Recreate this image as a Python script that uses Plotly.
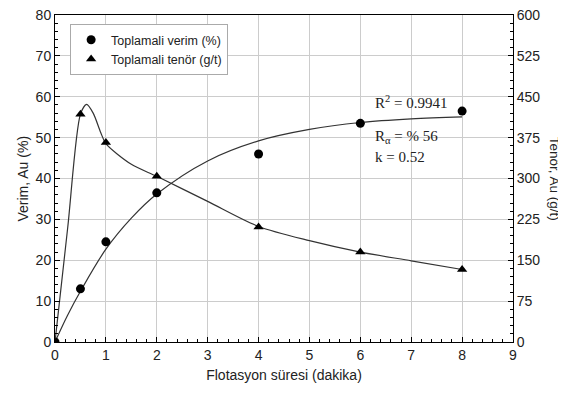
import plotly.graph_objects as go

# Measured data
t_pts = [0, 0.5, 1, 2, 4, 6, 8]
recovery = [0, 13, 24.5, 36.5, 46, 53.5, 56.5]          # Verim, Au (%)
grade = [0, 418, 366, 304, 211, 165, 133]                # Tenör, Au (g/t)

# Fitted recovery curve
t_fit = [0, 0.25, 0.5, 1, 1.5, 2, 3, 4, 5, 6, 7, 8]
rec_fit = [0, 6.6, 12.4, 22.7, 30.3, 36.2, 44.3, 49.2, 52.0, 53.7, 54.6, 55.1]

# Smooth grade curve
t_gc = [0, 0.25, 0.5, 0.62, 0.75, 0.9, 1, 1.5, 2, 3, 4, 5, 6, 7, 8]
grade_curve = [0, 210, 418, 436, 420, 384, 364, 326, 304, 258, 212, 186, 165, 149, 133]

x_ticks = list(range(0, 10))
left_ticks = list(range(0, 90, 10))
right_ticks = list(range(0, 675, 75))

serif = "Liberation Serif, Times New Roman, serif"
sans = "Liberation Sans, Arial, sans-serif"

fig = go.Figure()
fig.add_trace(go.Scatter(x=t_fit, y=rec_fit, mode="lines", line=dict(color="#333", width=1.2, shape="spline"),
                         showlegend=False, hoverinfo="skip"))
fig.add_trace(go.Scatter(x=t_gc, y=grade_curve, mode="lines", yaxis="y2",
                         line=dict(color="#333", width=1.2, shape="spline", smoothing=0.8),
                         showlegend=False, hoverinfo="skip"))
fig.add_trace(go.Scatter(x=t_pts, y=recovery, mode="markers", name="Toplamali verim (%)",
                         marker=dict(symbol="circle", size=9, color="black")))
fig.add_trace(go.Scatter(x=t_pts, y=grade, mode="markers", name="Toplamali tenör (g/t)", yaxis="y2",
                         marker=dict(symbol="triangle-up", size=9, color="black")))

fig.update_layout(
    width=566, height=396,
    margin=dict(l=47, r=61, t=7, b=62),
    paper_bgcolor="white", plot_bgcolor="white",
    font=dict(family=sans, size=14, color="#222"),
    xaxis=dict(range=[0, 9], tickvals=x_ticks, showgrid=True, gridcolor="#cccccc", gridwidth=1,
               showline=True, linecolor="black", linewidth=1, mirror=True, zeroline=False,
               ticks="inside", ticklen=5, tickcolor="black", automargin=False, ticklabeloverflow="allow",
               minor=dict(dtick=0.2, ticks="inside", ticklen=3, tickcolor="black", showgrid=False),
               title=dict(text="Flotasyon süresi (dakika)", font=dict(size=14), standoff=8)),
    yaxis=dict(range=[0, 80], tickvals=left_ticks, showgrid=True, gridcolor="#cccccc", gridwidth=1,
               showline=True, linecolor="black", linewidth=1, zeroline=False,
               ticks="inside", ticklen=5, tickcolor="black", automargin=False, ticklabeloverflow="allow",
               minor=dict(dtick=2, ticks="inside", ticklen=3, tickcolor="black", showgrid=False)),
    yaxis2=dict(range=[0, 600], tickvals=right_ticks, overlaying="y", side="right", showgrid=False,
                showline=True, linecolor="black", linewidth=1, zeroline=False,
                ticks="inside", ticklen=5, tickcolor="black", automargin=False, ticklabeloverflow="allow",
                minor=dict(dtick=15, ticks="inside", ticklen=3, tickcolor="black")),
    legend=dict(x=0.033, y=0.972, xanchor="left", yanchor="top", bgcolor="white",
                bordercolor="#aaa", borderwidth=1, font=dict(size=12.5),
                itemwidth=30, tracegroupgap=0),
    showlegend=True,
)

# Axis titles as rotated annotations
fig.add_annotation(x=-0.072, y=0.5, xref="paper", yref="paper", text="Verim, Au (%)", showarrow=False,
                   textangle=-90, xanchor="center", yanchor="middle", font=dict(size=14, color="#222"))
fig.add_annotation(x=1.091, y=0.5, xref="paper", yref="paper", text="Tenör, Au (g/t)", showarrow=False,
                   textangle=90, xanchor="center", yanchor="middle", font=dict(size=13.5, color="#222"))

fig.add_annotation(x=6.25, y=58.7, xref="x", yref="y", text="R<sup>2</sup> = 0.9941", showarrow=False,
                   xanchor="left", yanchor="middle", font=dict(family=serif, size=15, color="#222"))
fig.add_annotation(x=6.25, y=50.2, xref="x", yref="y", text="R<sub>α</sub> = % 56", showarrow=False,
                   xanchor="left", yanchor="middle", font=dict(family=serif, size=15, color="#222"))
fig.add_annotation(x=6.25, y=45.2, xref="x", yref="y", text="k = 0.52", showarrow=False,
                   xanchor="left", yanchor="middle", font=dict(family=serif, size=15, color="#222"))

fig.write_html("out.html")
